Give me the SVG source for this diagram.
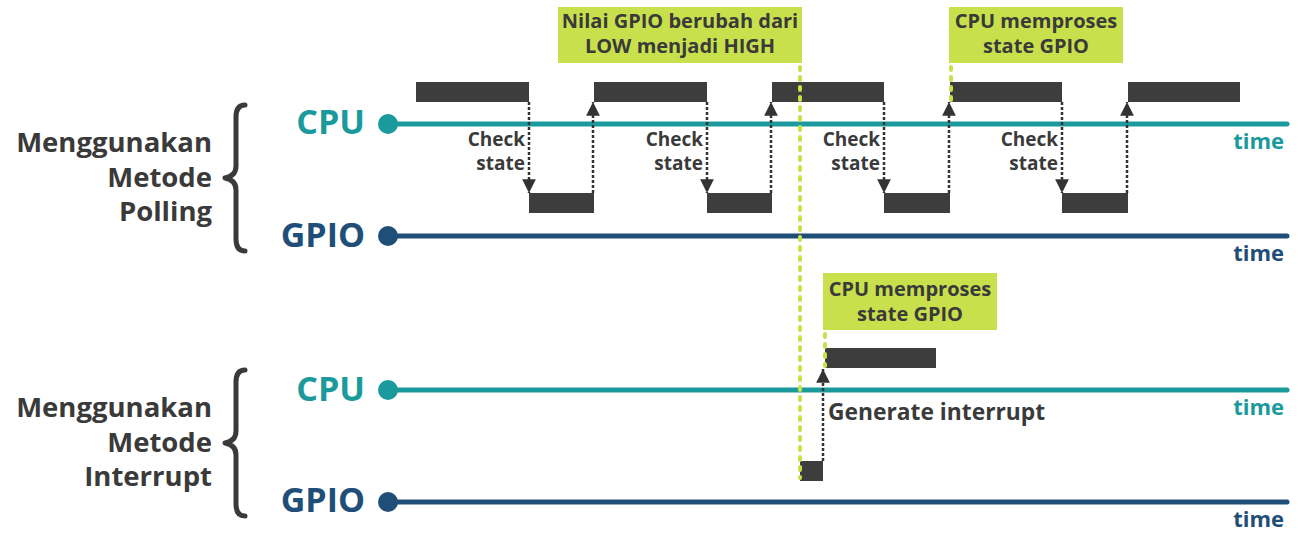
<svg xmlns="http://www.w3.org/2000/svg" width="1298" height="547" viewBox="0 0 1298 547">
<defs>
<style>
text{font-family:"Open Sans","Noto Sans","Liberation Sans",sans-serif;font-weight:700}
.lbl{font-size:27.5px;fill:#3a3a3a;text-anchor:end}
.cpu{fill:#1a9a9c}
.gpio{fill:#1f4e79}
.sig{font-size:34px;text-anchor:end}
.time{font-size:22px;text-anchor:end}
.chk{font-size:19px;fill:#3a3a3a;text-anchor:end}
.note{font-size:20px;fill:#3a3a3a;text-anchor:middle}
.gen{font-size:22.8px;fill:#3a3a3a}
.blk{fill:#3d3d3d}
.box{fill:#c8e04c}
.brace{fill:none;stroke:#3a3a3a;stroke-width:5;stroke-linecap:round;stroke-linejoin:round}
.lineC{stroke:#1a9a9c;stroke-width:5;stroke-linecap:round}
.lineG{stroke:#1f4e79;stroke-width:5;stroke-linecap:round}
.arr{stroke:#333;stroke-width:2.5;stroke-dasharray:3 2;fill:none}
.mark{stroke:#c8e04c;stroke-width:4;stroke-dasharray:3 7;stroke-linecap:round;fill:none}
</style>
<marker id="ah" viewBox="0 0 10 10" refX="10" refY="5" markerWidth="5.5" markerHeight="5.5" markerUnits="strokeWidth" orient="auto">
<path d="M0,0 L10,5 L0,10 z" fill="#333"/>
</marker>
</defs>

<g id="polling-label">
<text class="lbl" x="212" y="152">Menggunakan</text>
<text class="lbl" x="212" y="186.5">Metode</text>
<text class="lbl" x="212" y="221">Polling</text>
<path class="brace" d="M245,105 Q236,105 236,117 L236,166 Q236,176 225,178 Q236,180 236,190 L236,239 Q236,251 245,251"/>
</g>

<g id="interrupt-label">
<text class="lbl" x="212" y="417">Menggunakan</text>
<text class="lbl" x="212" y="451.5">Metode</text>
<text class="lbl" x="212" y="486">Interrupt</text>
<path class="brace" d="M245,370 Q236,370 236,382 L236,431 Q236,441 225,443 Q236,445 236,455 L236,504 Q236,516 245,516"/>
</g>

<g id="cpu-polling">
<text class="sig cpu" x="365" y="134">CPU</text>
<line class="lineC" x1="388" y1="124" x2="1287" y2="124"/>
<circle cx="388" cy="124" r="10" class="cpu"/>
<text class="time cpu" x="1284" y="149">time</text>
<rect class="blk" x="416" y="82" width="113" height="20"/>
<rect class="blk" x="594" y="82" width="113" height="20"/>
<rect class="blk" x="772" y="82" width="112" height="20"/>
<rect class="blk" x="950" y="82" width="112" height="20"/>
<rect class="blk" x="1128" y="82" width="112" height="20"/>
</g>

<g id="gpio-polling">
<text class="sig gpio" x="365" y="247">GPIO</text>
<line class="lineG" x1="388" y1="236" x2="1287" y2="236"/>
<circle cx="388" cy="236" r="10" class="gpio"/>
<text class="time gpio" x="1284" y="261">time</text>
<rect class="blk" x="529" y="193" width="65" height="20"/>
<rect class="blk" x="707" y="193" width="65" height="20"/>
<rect class="blk" x="884" y="193" width="66" height="20"/>
<rect class="blk" x="1062" y="193" width="66" height="20"/>
</g>

<g id="cpu-interrupt">
<text class="sig cpu" x="365" y="401">CPU</text>
<line class="lineC" x1="388" y1="390" x2="1287" y2="390"/>
<circle cx="388" cy="390" r="10" class="cpu"/>
<text class="time cpu" x="1284" y="415">time</text>
<rect class="blk" x="825" y="348" width="111" height="20"/>
</g>

<g id="gpio-interrupt">
<text class="sig gpio" x="365" y="512">GPIO</text>
<line class="lineG" x1="388" y1="502" x2="1287" y2="502"/>
<circle cx="388" cy="502" r="10" class="gpio"/>
<text class="time gpio" x="1284" y="527">time</text>
<rect class="blk" x="800" y="461" width="23" height="20"/>
</g>

<g id="check-labels">
<text class="chk" x="525" y="146">Check</text>
<text class="chk" x="525" y="170">state</text>
<text class="chk" x="703" y="146">Check</text>
<text class="chk" x="703" y="170">state</text>
<text class="chk" x="880" y="146">Check</text>
<text class="chk" x="880" y="170">state</text>
<text class="chk" x="1058" y="146">Check</text>
<text class="chk" x="1058" y="170">state</text>
<text class="gen" x="828" y="420">Generate interrupt</text>
</g>

<g id="note-change">
<rect class="box" x="558" y="7" width="244" height="56"/>
<text class="note" x="680" y="28">Nilai GPIO berubah dari</text>
<text class="note" x="680" y="53">LOW menjadi HIGH</text>
</g>
<g id="note-cpu-polling">
<rect class="box" x="949" y="7" width="174" height="56"/>
<text class="note" x="1036" y="28">CPU memproses</text>
<text class="note" x="1036" y="53">state GPIO</text>
</g>
<g id="note-cpu-interrupt">
<rect class="box" x="823" y="273" width="174" height="57"/>
<text class="note" x="910" y="296">CPU memproses</text>
<text class="note" x="910" y="321">state GPIO</text>
</g>

<g id="connectors">
<line class="arr" x1="529" y1="102" x2="529" y2="193" marker-end="url(#ah)"/>
<line class="arr" x1="593" y1="193" x2="593" y2="102" marker-end="url(#ah)"/>
<line class="arr" x1="707" y1="102" x2="707" y2="193" marker-end="url(#ah)"/>
<line class="arr" x1="771" y1="193" x2="771" y2="102" marker-end="url(#ah)"/>
<line class="arr" x1="884" y1="102" x2="884" y2="193" marker-end="url(#ah)"/>
<line class="arr" x1="949" y1="193" x2="949" y2="102" marker-end="url(#ah)"/>
<line class="arr" x1="1062" y1="102" x2="1062" y2="193" marker-end="url(#ah)"/>
<line class="arr" x1="1127" y1="193" x2="1127" y2="102" marker-end="url(#ah)"/>
<line class="arr" x1="823" y1="461" x2="823" y2="369" marker-end="url(#ah)"/>
<line class="mark" x1="800" y1="67" x2="800" y2="478"/>
<line class="mark" x1="951" y1="67" x2="951" y2="100"/>
<line class="mark" x1="825" y1="334" x2="825" y2="366"/>
</g>
</svg>
